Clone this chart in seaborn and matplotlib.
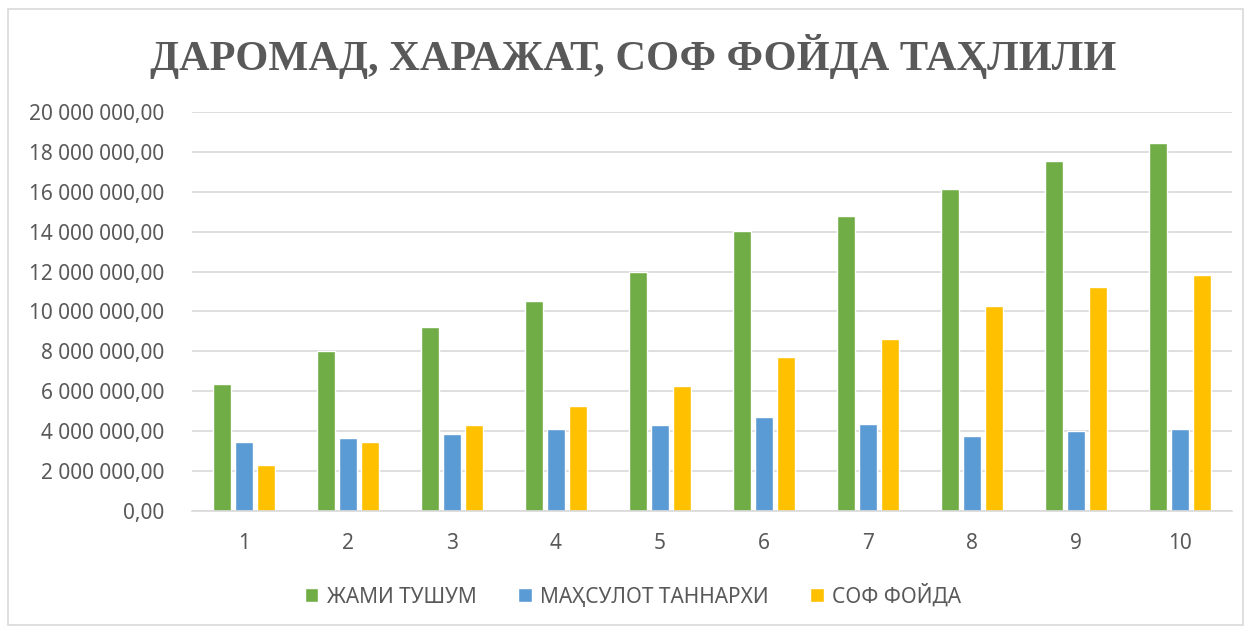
import pandas as pd
import seaborn as sns
import matplotlib.pyplot as plt
from matplotlib.ticker import FuncFormatter
from matplotlib.patches import Rectangle

# Data
years = [1, 2, 3, 4, 5, 6, 7, 8, 9, 10]
revenue = [6390000, 8000000, 9200000, 10530000, 11970000, 14030000, 14810000, 16160000, 17550000, 18420000]
cost = [3460000, 3660000, 3870000, 4090000, 4320000, 4700000, 4380000, 3750000, 4010000, 4130000]
profit = [2310000, 3470000, 4320000, 5280000, 6260000, 7700000, 8620000, 10270000, 11220000, 11850000]
series = ["ЖАМИ ТУШУМ", "МАҲСУЛОТ ТАННАРХИ", "СОФ ФОЙДА"]
colors = ["#70AD47", "#5B9BD5", "#FFC000"]

df = pd.DataFrame({"year": years, series[0]: revenue, series[1]: cost, series[2]: profit})
long_df = df.melt(id_vars="year", var_name="series", value_name="value")

sns.set_style("white")
plt.rcParams["font.family"] = ["Noto Sans", "DejaVu Sans"]

fig = plt.figure(figsize=(12.51, 6.28), dpi=100)
ax = fig.add_axes([0.1535, 0.1863, 0.8313, 0.6354])

sns.barplot(data=long_df, x="year", y="value", hue="series", hue_order=series,
            palette=colors, width=0.64, gap=0.2, ax=ax, saturation=1)

ax.set_ylim(0, 20000000)
ax.set_yticks(range(0, 20000001, 2000000))
ax.yaxis.set_major_formatter(FuncFormatter(lambda v, p: f"{v:,.2f}".replace(",", " ").replace(".", ",")))
ax.grid(axis="y", color="#D9D9D9", linewidth=1.2)
ax.set_axisbelow(True)
for s in ["top", "right", "left"]:
    ax.spines[s].set_visible(False)
ax.spines["bottom"].set_color("#D9D9D9")
ax.spines["bottom"].set_linewidth(1.2)
ax.tick_params(length=0, labelsize=15, labelcolor="#595959")
ax.tick_params(axis="y", pad=20)
ax.tick_params(axis="x", pad=16)
ax.set_xlabel("")
ax.set_ylabel("")

ax.legend(loc="center", bbox_to_anchor=(0.506, 0.051), bbox_transform=fig.transFigure,
          ncol=3, frameon=False, fontsize=15, labelcolor="#595959",
          handlelength=0.65, handleheight=0.65, handletextpad=0.4, columnspacing=2.0)

fig.text(0.506, 0.91, "ДАРОМАД, ХАРАЖАТ, СОФ ФОЙДА ТАҲЛИЛИ", ha="center", va="center",
         fontsize=30.5, fontweight="bold", color="#595959", family=["Liberation Serif", "DejaVu Serif"])

fig.patches.append(Rectangle((0.006, 0.005), 0.988, 0.98, transform=fig.transFigure,
                             fill=False, edgecolor="#D9D9D9", linewidth=1.2))

fig.savefig("out.png", dpi=100)
